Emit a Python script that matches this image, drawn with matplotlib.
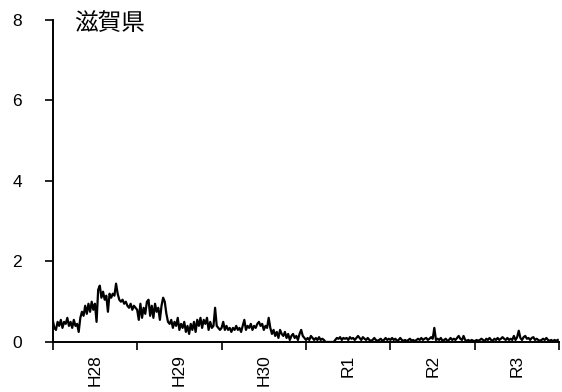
import matplotlib
matplotlib.use("Agg")
import matplotlib.pyplot as plt
import numpy as np

# weekly values per year
years = ["H28", "H29", "H30", "R1", "R2", "R3"]

h28 = [0.55, 0.35, 0.3, 0.5, 0.4, 0.55, 0.35, 0.5, 0.45, 0.6,
       0.4, 0.5, 0.35, 0.55, 0.4, 0.45, 0.25, 0.6, 0.75, 0.65,
       0.9, 0.7, 0.95, 0.75, 1.0, 0.8, 0.95, 0.5, 1.3, 1.4,
       1.1, 1.25, 1.05, 1.15, 0.75, 1.2, 1.1, 1.2, 1.15, 1.45,
       1.2, 1.05, 1.0, 1.05, 0.95, 1.0, 0.9, 0.85, 0.95, 0.8,
       0.9, 0.85]
h29 = [0.8, 0.55, 0.95, 0.6, 0.85, 0.7, 1.0, 1.05, 0.65, 0.9,
       0.6, 0.95, 0.75, 0.85, 0.55, 0.9, 1.1, 1.0, 0.7, 0.5,
       0.45, 0.55, 0.35, 0.5, 0.4, 0.6, 0.3, 0.45, 0.35, 0.5,
       0.25, 0.4, 0.2, 0.45, 0.3, 0.5, 0.25, 0.55, 0.4, 0.6,
       0.35, 0.55, 0.45, 0.6, 0.3, 0.5, 0.35, 0.4, 0.85, 0.4,
       0.35, 0.3]
h30 = [0.35, 0.5, 0.3, 0.4, 0.3, 0.35, 0.25, 0.35, 0.3, 0.4,
       0.3, 0.35, 0.25, 0.4, 0.55, 0.3, 0.4, 0.35, 0.45, 0.3,
       0.4, 0.35, 0.45, 0.5, 0.4, 0.45, 0.3, 0.4, 0.35, 0.6,
       0.35, 0.2, 0.3, 0.15, 0.25, 0.1, 0.3, 0.2, 0.15, 0.25,
       0.1, 0.2, 0.05, 0.15, 0.2, 0.1, 0.15, 0.05, 0.2, 0.3,
       0.15, 0.1]
r1 = [0.05, 0.1, 0.05, 0.15, 0.1, 0.05, 0.1, 0.05, 0.12, 0.05,
      0.08, 0.05, 0.0, 0.0, 0.0, 0.0, 0.0, 0.0, 0.05, 0.1,
      0.08, 0.12, 0.05, 0.1, 0.08, 0.1, 0.05, 0.12, 0.08, 0.1,
      0.05, 0.1, 0.15, 0.1, 0.05, 0.12, 0.08, 0.05, 0.1, 0.05,
      0.03, 0.05, 0.1, 0.05, 0.03, 0.05, 0.08, 0.03, 0.05, 0.1,
      0.05, 0.08]
r2 = [0.05, 0.1, 0.05, 0.08, 0.03, 0.05, 0.1, 0.05, 0.03, 0.05,
      0.02, 0.05, 0.08, 0.03, 0.05, 0.02, 0.05, 0.08, 0.05, 0.1,
      0.05, 0.08, 0.1, 0.05, 0.08, 0.12, 0.08, 0.35, 0.05, 0.08,
      0.05, 0.1, 0.03, 0.05, 0.08, 0.03, 0.05, 0.1, 0.05, 0.08,
      0.05, 0.1, 0.15, 0.08, 0.05, 0.15, 0.05, 0.03, 0.05, 0.02,
      0.05, 0.03]
r3 = [0.02, 0.05, 0.03, 0.05, 0.08, 0.05, 0.02, 0.08, 0.05, 0.1,
      0.05, 0.03, 0.08, 0.05, 0.1, 0.05, 0.08, 0.12, 0.08, 0.05,
      0.1, 0.05, 0.08, 0.05, 0.15, 0.05, 0.12, 0.28, 0.1, 0.05,
      0.12, 0.15, 0.08, 0.1, 0.05, 0.1, 0.12, 0.05, 0.08, 0.05,
      0.03, 0.05, 0.08, 0.05, 0.1, 0.05, 0.03, 0.05, 0.02, 0.05,
      0.03, 0.05]

series = [h28, h29, h30, r1, r2, r3]

xs = []
ys = []
for k, vals in enumerate(series):
    n = len(vals)
    for i, v in enumerate(vals):
        xs.append(k + i / n)
        ys.append(v)

plt.rcParams['font.family'] = ['Liberation Sans', 'DejaVu Sans']

fig = plt.figure(figsize=(5.62, 3.92), dpi=100)
ax = fig.add_axes([0.0938, 0.1276, 0.9015, 0.8214])

ax.plot(xs, ys, color='black', lw=1.6)

ax.set_xlim(0, 6)
ax.set_ylim(0, 8)
ax.set_yticks([0, 2, 4, 6, 8])
ax.tick_params(axis='y', length=6, width=1.2, pad=16, labelsize=12.5)

ax.set_xticks(np.arange(0, 7))
ax.set_xticklabels([])
ax.tick_params(axis='x', which='major', length=6, width=1.2)
ax.set_xticks(np.arange(6) + 0.5, minor=True)
ax.set_xticklabels(years, minor=True, rotation=90)
ax.tick_params(axis='x', which='minor', length=0, pad=9, labelsize=12.5)

for s in ['top', 'right']:
    ax.spines[s].set_visible(False)
for s in ['left', 'bottom']:
    ax.spines[s].set_linewidth(1.4)

ax.text(0.043, 0.99, '滋賀県', transform=ax.transAxes, fontsize=17,
        family=['Noto Sans CJK JP', 'DejaVu Sans'], va='center', ha='left')

fig.savefig('out.png', dpi=100)
